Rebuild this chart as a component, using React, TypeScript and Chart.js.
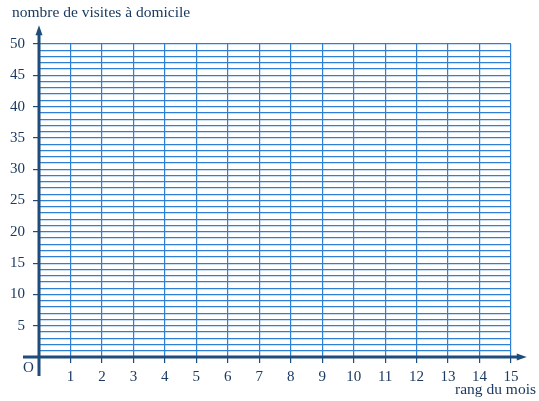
import React, { useEffect, useRef } from "react";
import { Chart, registerables } from "chart.js";

Chart.register(...registerables);

// Axis ranges and labels
const xMin = 0;
const xMax = 15;
const yMin = 0;
const yMax = 50;
const xLabelValues = [1, 2, 3, 4, 5, 6, 7, 8, 9, 10, 11, 12, 13, 14, 15];
const yLabelValues = [5, 10, 15, 20, 25, 30, 35, 40, 45, 50];
const yTitle = "nombre de visites à domicile";
const xTitle = "rang du mois";
const originLabel = "O";
// The reference chart holds an empty grid: no plotted points.
const points: { x: number; y: number }[] = [];

const GRID = "#2f7fd4";
const AXIS = "#1f4c7a";
const TEXT = "#1b3a60";
const FONT = "'Liberation Serif', 'DejaVu Serif', serif";

const axesPlugin = {
  id: "axesPlugin",
  afterDraw(chart: any) {
    const ctx = chart.ctx;
    const xs = chart.scales.x;
    const ys = chart.scales.y;
    const x0 = xs.getPixelForValue(0);
    const y0 = ys.getPixelForValue(0);
    const xEnd = xs.getPixelForValue(15.5);
    const yTop = ys.getPixelForValue(53);
    ctx.save();
    ctx.strokeStyle = AXIS;
    ctx.fillStyle = AXIS;
    ctx.lineWidth = 3;
    // x axis
    ctx.beginPath();
    ctx.moveTo(x0 - 16, y0);
    ctx.lineTo(xEnd - 6, y0);
    ctx.stroke();
    ctx.beginPath();
    ctx.moveTo(xEnd, y0);
    ctx.lineTo(xEnd - 10, y0 - 3.5);
    ctx.lineTo(xEnd - 10, y0 + 3.5);
    ctx.closePath();
    ctx.fill();
    // y axis
    ctx.beginPath();
    ctx.moveTo(x0, y0 + 19);
    ctx.lineTo(x0, yTop + 6);
    ctx.stroke();
    ctx.beginPath();
    ctx.moveTo(x0, yTop);
    ctx.lineTo(x0 - 3.5, yTop + 10);
    ctx.lineTo(x0 + 3.5, yTop + 10);
    ctx.closePath();
    ctx.fill();
    // texts
    ctx.fillStyle = TEXT;
    ctx.font = "15.5px " + FONT;
    ctx.textBaseline = "alphabetic";
    ctx.textAlign = "left";
    ctx.fillText(yTitle, 12, 17);
    ctx.textAlign = "right";
    ctx.fillText(xTitle, 536, 394);
    ctx.textAlign = "center";
    ctx.textBaseline = "middle";
    ctx.font = "15px " + FONT;
    ctx.fillText(originLabel, x0 - 10.5, y0 + 11);
    ctx.restore();
  },
};

export default function App() {
  const ref = useRef<HTMLCanvasElement | null>(null);
  useEffect(() => {
    if (!ref.current) return;
    const chart = new Chart(ref.current, {
      type: "scatter",
      data: {
        datasets: [
          {
            data: points,
            pointRadius: 0,
          },
        ],
      },
      options: {
        animation: false,
        responsive: false,
        layout: { padding: { top: 44, right: 28, left: 0, bottom: 0 } },
        plugins: {
          legend: { display: false },
          tooltip: { enabled: false },
          title: { display: false },
        },
        scales: {
          x: {
            type: "linear",
            min: xMin,
            max: xMax,
            afterFit: (s: any) => {
              s.height = 44;
            },
            border: { display: false },
            grid: {
              color: GRID,
              lineWidth: 1.2,
              tickLength: 6,
              tickColor: AXIS,
              tickWidth: 1.2,
            },
            ticks: {
              stepSize: 1,
              autoSkip: false,
              maxRotation: 0,
              maxTicksLimit: 100,
              padding: 5,
              color: TEXT,
              font: { family: FONT, size: 15 },
              callback: (v: any) => (xLabelValues.includes(Number(v)) ? String(v) : ""),
            },
          },
          y: {
            type: "linear",
            min: yMin,
            max: yMax,
            afterFit: (s: any) => {
              s.width = 39;
            },
            border: { display: false },
            grid: {
              color: GRID,
              lineWidth: 1.2,
              tickLength: 6,
              tickColor: (c: any) =>
                c.tick && yLabelValues.includes(c.tick.value) ? AXIS : "rgba(0,0,0,0)",
              tickWidth: 1.2,
            },
            ticks: {
              stepSize: 1,
              autoSkip: false,
              maxTicksLimit: 100,
              padding: 8,
              color: TEXT,
              font: { family: FONT, size: 15 },
              callback: (v: any) => (yLabelValues.includes(Number(v)) ? String(v) : ""),
            },
          },
        },
      },
      plugins: [axesPlugin],
    });
    return () => chart.destroy();
  }, []);
  return (
    <div style={{ position: "fixed", left: 0, top: 0, width: 539, height: 401, background: "#fff" }}>
      <canvas ref={ref} width={539} height={401} style={{ display: "block" }} />
    </div>
  );
}
